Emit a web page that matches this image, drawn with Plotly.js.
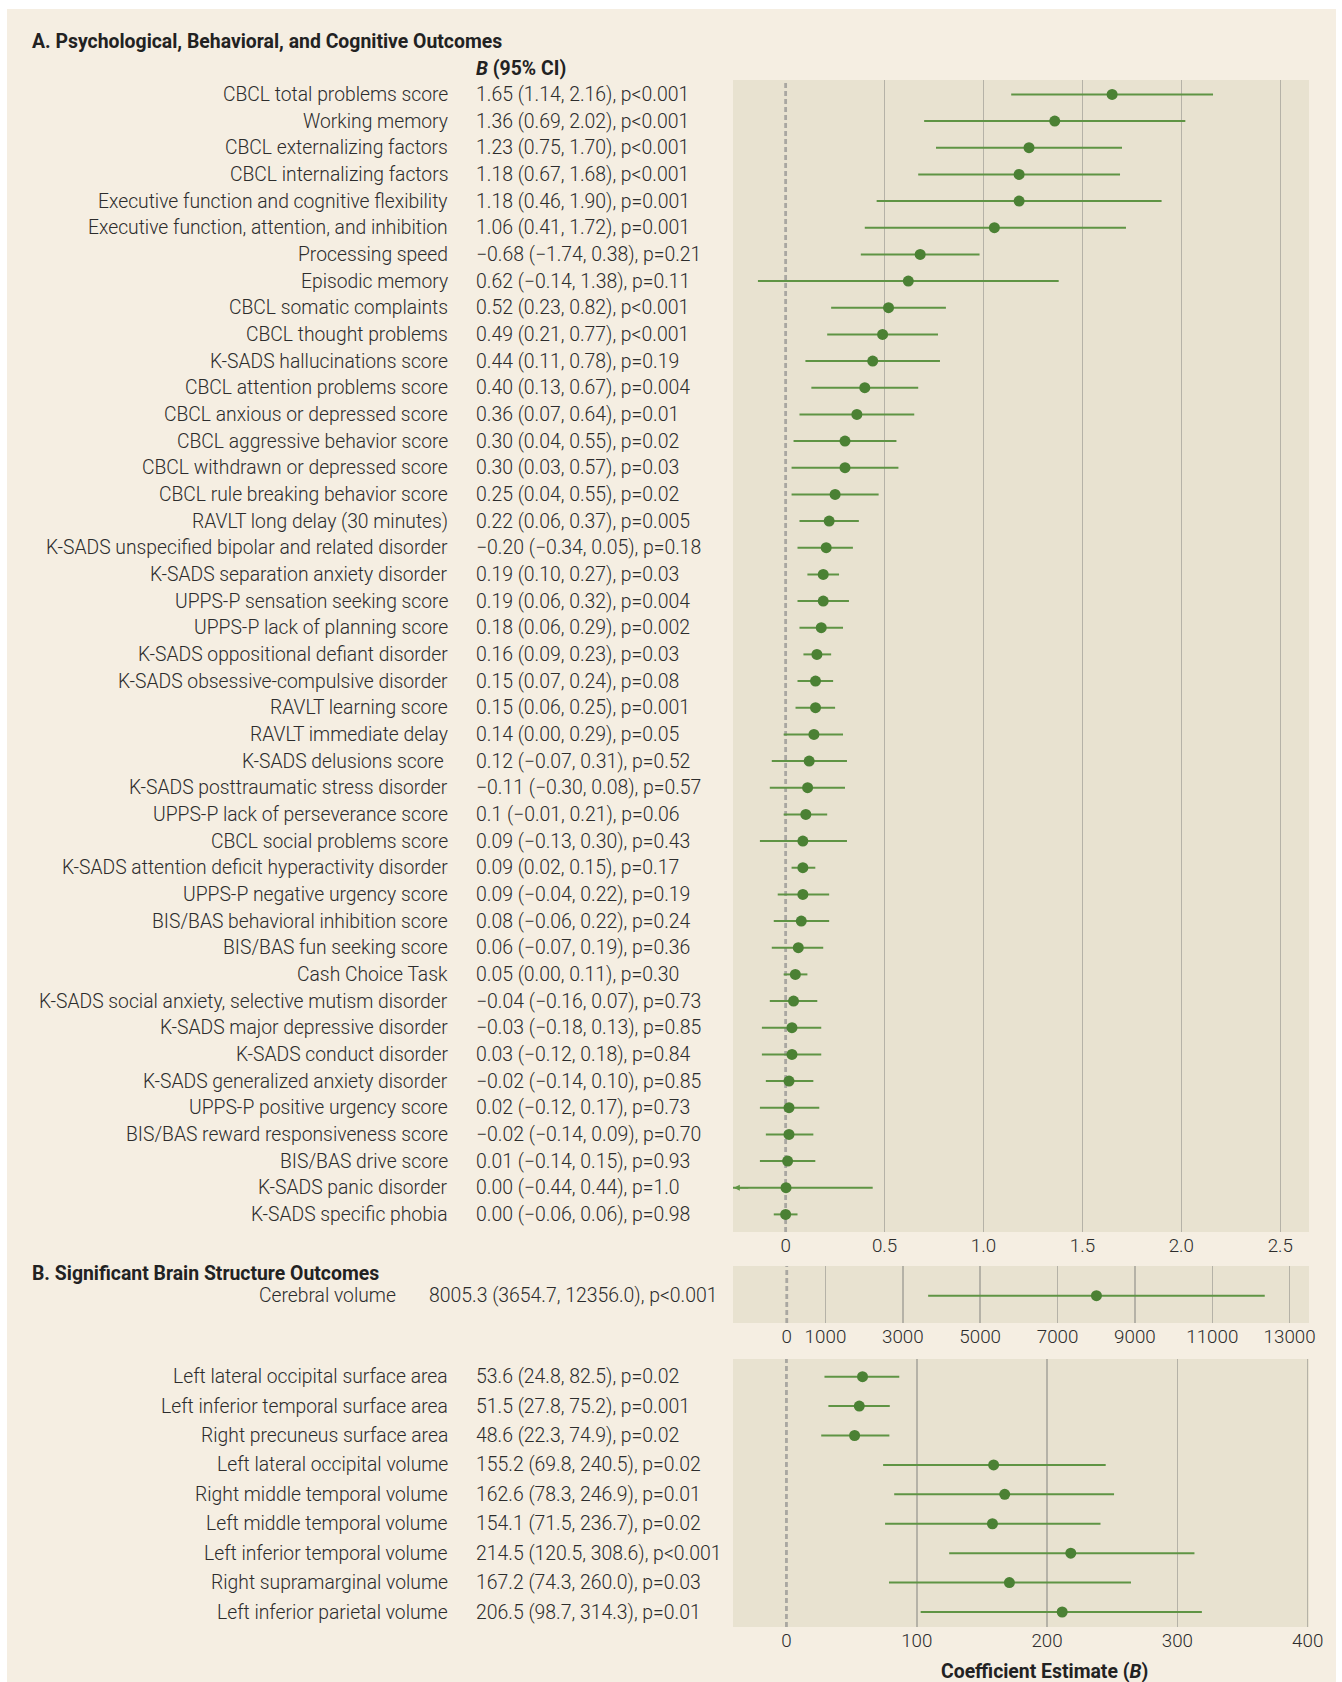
<!DOCTYPE html>
<html><head><meta charset="utf-8">
<script src="https://cdn.plot.ly/plotly-3.0.1.min.js"></script>
<style>html,body{margin:0;padding:0;background:#fff}</style>
</head><body><div id="chart" style="width:1342px;height:1682px"></div>
<script>
// ---------- Panel A data ----------
const labelsA = [
  "CBCL total problems score","Working memory","CBCL externalizing factors","CBCL internalizing factors",
  "Executive function and cognitive flexibility","Executive function, attention, and inhibition","Processing speed",
  "Episodic memory","CBCL somatic complaints","CBCL thought problems","K-SADS hallucinations score",
  "CBCL attention problems score","CBCL anxious or depressed score","CBCL aggressive behavior score",
  "CBCL withdrawn or depressed score","CBCL rule breaking behavior score","RAVLT long delay (30 minutes)",
  "K-SADS unspecified bipolar and related disorder","K-SADS separation anxiety disorder","UPPS-P sensation seeking score",
  "UPPS-P lack of planning score","K-SADS oppositional defiant disorder","K-SADS obsessive-compulsive disorder",
  "RAVLT learning score","RAVLT immediate delay","K-SADS delusions score\u00a0","K-SADS posttraumatic stress disorder",
  "UPPS-P lack of perseverance score","CBCL social problems score","K-SADS attention deficit hyperactivity disorder",
  "UPPS-P negative urgency score","BIS/BAS behavioral inhibition score","BIS/BAS fun seeking score","Cash Choice Task",
  "K-SADS social anxiety, selective mutism disorder","K-SADS major depressive disorder","K-SADS conduct disorder",
  "K-SADS generalized anxiety disorder","UPPS-P positive urgency score","BIS/BAS reward responsiveness score",
  "BIS/BAS drive score","K-SADS panic disorder","K-SADS specific phobia"
];
const textsA = [
  "1.65 (1.14, 2.16), p<0.001","1.36 (0.69, 2.02), p<0.001","1.23 (0.75, 1.70), p<0.001","1.18 (0.67, 1.68), p<0.001",
  "1.18 (0.46, 1.90), p=0.001","1.06 (0.41, 1.72), p=0.001","\u22120.68 (\u22121.74, 0.38), p=0.21",
  "0.62 (\u22120.14, 1.38), p=0.11","0.52 (0.23, 0.82), p<0.001","0.49 (0.21, 0.77), p<0.001","0.44 (0.11, 0.78), p=0.19",
  "0.40 (0.13, 0.67), p=0.004","0.36 (0.07, 0.64), p=0.01","0.30 (0.04, 0.55), p=0.02","0.30 (0.03, 0.57), p=0.03",
  "0.25 (0.04, 0.55), p=0.02","0.22 (0.06, 0.37), p=0.005","\u22120.20 (\u22120.34, 0.05), p=0.18",
  "0.19 (0.10, 0.27), p=0.03","0.19 (0.06, 0.32), p=0.004","0.18 (0.06, 0.29), p=0.002","0.16 (0.09, 0.23), p=0.03",
  "0.15 (0.07, 0.24), p=0.08","0.15 (0.06, 0.25), p=0.001","0.14 (0.00, 0.29), p=0.05","0.12 (\u22120.07, 0.31), p=0.52",
  "\u22120.11 (\u22120.30, 0.08), p=0.57","0.1 (\u22120.01, 0.21), p=0.06","0.09 (\u22120.13, 0.30), p=0.43",
  "0.09 (0.02, 0.15), p=0.17","0.09 (\u22120.04, 0.22), p=0.19","0.08 (\u22120.06, 0.22), p=0.24",
  "0.06 (\u22120.07, 0.19), p=0.36","0.05 (0.00, 0.11), p=0.30","\u22120.04 (\u22120.16, 0.07), p=0.73",
  "\u22120.03 (\u22120.18, 0.13), p=0.85","0.03 (\u22120.12, 0.18), p=0.84","\u22120.02 (\u22120.14, 0.10), p=0.85",
  "0.02 (\u22120.12, 0.17), p=0.73","\u22120.02 (\u22120.14, 0.09), p=0.70","0.01 (\u22120.14, 0.15), p=0.93",
  "0.00 (\u22120.44, 0.44), p=1.0","0.00 (\u22120.06, 0.06), p=0.98"
];
const estA = [1.65,1.36,1.23,1.18,1.18,1.055,0.68,0.62,0.52,0.49,0.44,0.40,0.36,0.30,0.30,0.25,0.22,0.205,0.19,0.19,0.18,0.158,0.151,0.151,0.143,0.119,0.111,0.102,0.087,0.087,0.087,0.079,0.064,0.049,0.040,0.032,0.032,0.017,0.017,0.017,0.010,0.002,0.0];
const loA  = [1.14,0.70,0.76,0.67,0.46,0.40,0.38,-0.14,0.23,0.21,0.10,0.13,0.07,0.04,0.03,0.03,0.07,0.06,0.11,0.06,0.07,0.09,0.06,0.05,-0.01,-0.07,-0.08,-0.01,-0.13,0.03,-0.04,-0.06,-0.07,-0.01,-0.08,-0.12,-0.12,-0.10,-0.13,-0.10,-0.13,-0.44,-0.06];
const hiA  = [2.16,2.02,1.70,1.69,1.90,1.72,0.98,1.38,0.81,0.77,0.78,0.67,0.65,0.56,0.57,0.47,0.37,0.34,0.27,0.32,0.29,0.23,0.24,0.25,0.29,0.31,0.30,0.21,0.31,0.15,0.22,0.22,0.19,0.11,0.16,0.18,0.18,0.14,0.17,0.14,0.15,0.44,0.06];
const tickValsA = [0,0.5,1,1.5,2,2.5];
const tickTextA = ["0","0.5","1.0","1.5","2.0","2.5"];

// ---------- Panel B data ----------
const labelsB1 = ["Cerebral volume"];
const textsB1 = ["8005.3 (3654.7, 12356.0), p<0.001"];
const estB1 = [8005.3], loB1 = [3654.7], hiB1 = [12356.0];
const tickValsB1 = [0,1000,3000,5000,7000,9000,11000,13000];

const labelsB2 = ["Left lateral occipital surface area","Left inferior temporal surface area","Right precuneus surface area",
  "Left lateral occipital volume","Right middle temporal volume","Left middle temporal volume",
  "Left inferior temporal volume","Right supramarginal volume","Left inferior parietal volume"];
const textsB2 = ["53.6 (24.8, 82.5), p=0.02","51.5 (27.8, 75.2), p=0.001","48.6 (22.3, 74.9), p=0.02",
  "155.2 (69.8, 240.5), p=0.02","162.6 (78.3, 246.9), p=0.01","154.1 (71.5, 236.7), p=0.02",
  "214.5 (120.5, 308.6), p<0.001","167.2 (74.3, 260.0), p=0.03","206.5 (98.7, 314.3), p=0.01"];
const estB2 = [58.4,55.9,52.3,159.0,167.5,158.1,218.2,171.1,211.6];
const loB2  = [29.2,32.2,26.7,74.2,82.7,75.7,124.9,78.7,103.0];
const hiB2  = [86.6,79.3,79.0,245.0,251.4,241.0,313.1,264.4,318.8];
const tickValsB2 = [0,100,200,300,400];

// ---------- styling ----------
const W = 1342, H = 1682;
const FONT = "Roboto";
const TXT = "#2c2c2c";
const CREAM = "#f5eee2";
const PLOTBG = "#e8e2d0";
const GRID = "#b5b2a7";
const GREEN = "#4b8134";
const LINEG = "#5f9444";
const px = v => v / W;
const py = v => 1 - v / H;
const esc = s => s.replace(/</g, "&lt;");

const xDom = [px(733), px(1309)];
const idx = arr => arr.map((_, i) => i);

const rangeA = [-0.266, 2.645], yRangeA = [42.66, -0.54];
const rangeB1 = [-1390, 13500], yRangeB1 = [0.92, -1];
const rangeB2 = [-41, 401], yRangeB2 = [8.51, -0.60];

function zeroTraces(yr, xa, ya) {
  return [
    {type: "scatter", mode: "lines", x: [0, 0], y: yr, xaxis: xa, yaxis: ya,
     line: {color: PLOTBG, width: 5}, hoverinfo: "skip", showlegend: false},
    {type: "scatter", mode: "lines", x: [0, 0], y: yr, xaxis: xa, yaxis: ya,
     line: {color: "#a9a7a1", width: 2.8, dash: "5px,3px"}, hoverinfo: "skip", showlegend: false}
  ];
}
function ptTrace(est, lo, hi, xa, ya) {
  return {
    type: "scatter", mode: "markers", x: est, y: idx(est), xaxis: xa, yaxis: ya,
    marker: {size: 11, color: GREEN},
    error_x: {type: "data", symmetric: false,
      array: hi.map((h, i) => h - est[i]), arrayminus: lo.map((l, i) => est[i] - l),
      color: LINEG, thickness: 2, width: 0},
    hoverinfo: "skip", showlegend: false
  };
}

const data = [
  ...zeroTraces(yRangeA, "x", "y"),
  ...zeroTraces(yRangeB1, "x2", "y2"),
  ...zeroTraces(yRangeB2, "x3", "y3"),
  ptTrace(estA, loA, hiA, "x", "y"),
  ptTrace(estB1, loB1, hiB1, "x2", "y2"),
  ptTrace(estB2, loB2, hiB2, "x3", "y3")
];

const tickFont = {family: FONT, size: 18.8, color: TXT, weight: 300};
function xAxis(range, tv, tt, anchor) {
  return {domain: xDom, range: range, tickvals: tv, ticktext: tt, showgrid: true, gridcolor: GRID,
    gridwidth: 1.5, zeroline: false, showline: false, ticks: "", tickfont: tickFont, anchor: anchor, fixedrange: true};
}
function yAxis(dom, range, anchor) {
  return {domain: dom, range: range, showticklabels: false, showgrid: false, zeroline: false,
    showline: false, ticks: "", anchor: anchor, fixedrange: true};
}

const layout = {
  width: W, height: H, margin: {l: 0, r: 0, t: 0, b: 0}, paper_bgcolor: CREAM, plot_bgcolor: PLOTBG,
  showlegend: false,
  xaxis: xAxis(rangeA, tickValsA, tickTextA, "y"),
  yaxis: yAxis([py(1232), py(80)], yRangeA, "x"),
  xaxis2: xAxis(rangeB1, tickValsB1, tickValsB1.map(String), "y2"),
  yaxis2: yAxis([py(1323), py(1266)], yRangeB1, "x2"),
  xaxis3: xAxis(rangeB2, tickValsB2, tickValsB2.map(String), "y3"),
  yaxis3: yAxis([py(1627), py(1359)], yRangeB2, "x3"),
  shapes: [
    // white page frame around the cream panel
    {type: "rect", xref: "paper", yref: "paper", x0: 0, x1: 1, y0: py(9), y1: 1,
     fillcolor: "#ffffff", line: {width: 0}, layer: "below"},
    {type: "rect", xref: "paper", yref: "paper", x0: 0, x1: px(7), y0: 0, y1: 1,
     fillcolor: "#ffffff", line: {width: 0}, layer: "below"},
    {type: "rect", xref: "paper", yref: "paper", x0: px(1336), x1: 1, y0: 0, y1: 1,
     fillcolor: "#ffffff", line: {width: 0}, layer: "below"}
  ],
  annotations: []
};

const lblFont = {family: FONT, size: 19.3, color: TXT, weight: 300};
const valFont = {family: FONT, size: 19.4, color: TXT, weight: 300};
function rowAnn(labels, texts, ya, labX, valX) {
  labels.forEach((l, i) => {
    layout.annotations.push({xref: "paper", yref: ya, x: px(labX), y: i, xanchor: "right", yanchor: "middle",
      text: l, showarrow: false, font: lblFont});
    layout.annotations.push({xref: "paper", yref: ya, x: px(valX), y: i, xanchor: "left", yanchor: "middle",
      text: esc(texts[i]), showarrow: false, font: valFont});
  });
}
rowAnn(labelsA, textsA, "y", 450, 474);
rowAnn(labelsB1, textsB1, "y2", 398, 427);
rowAnn(labelsB2, textsB2, "y3", 450, 474);

const headFont = {family: FONT, size: 19.4, color: "#222"};
layout.annotations.push(
  {xref: "paper", yref: "paper", x: px(30), y: py(42), xanchor: "left", yanchor: "middle",
   text: "<b>A. Psychological, Behavioral, and Cognitive Outcomes</b>", showarrow: false, font: headFont},
  {xref: "paper", yref: "paper", x: px(474), y: py(69), xanchor: "left", yanchor: "middle",
   text: "<b><i>B</i> (95% CI)</b>", showarrow: false, font: headFont},
  {xref: "paper", yref: "paper", x: px(30), y: py(1273), xanchor: "left", yanchor: "middle",
   text: "<b>B. Significant Brain Structure Outcomes</b>", showarrow: false, font: headFont},
  {xref: "paper", yref: "paper", x: px(1044), y: py(1671), xanchor: "center", yanchor: "middle",
   text: "<b>Coefficient Estimate (<i>B</i>)</b>", showarrow: false, font: headFont}
);
// arrow for CI truncated at left edge (K-SADS panic disorder)
const panicIdx = labelsA.indexOf("K-SADS panic disorder");
layout.annotations.push({xref: "x", yref: "y", x: rangeA[0] + 0.004, y: panicIdx, ax: 16, ay: 0,
  text: "", showarrow: true, arrowhead: 2, arrowsize: 0.8, arrowwidth: 1.5, arrowcolor: LINEG});

Plotly.newPlot("chart", data, layout, {staticPlot: true, displayModeBar: false});
</script></body></html>
